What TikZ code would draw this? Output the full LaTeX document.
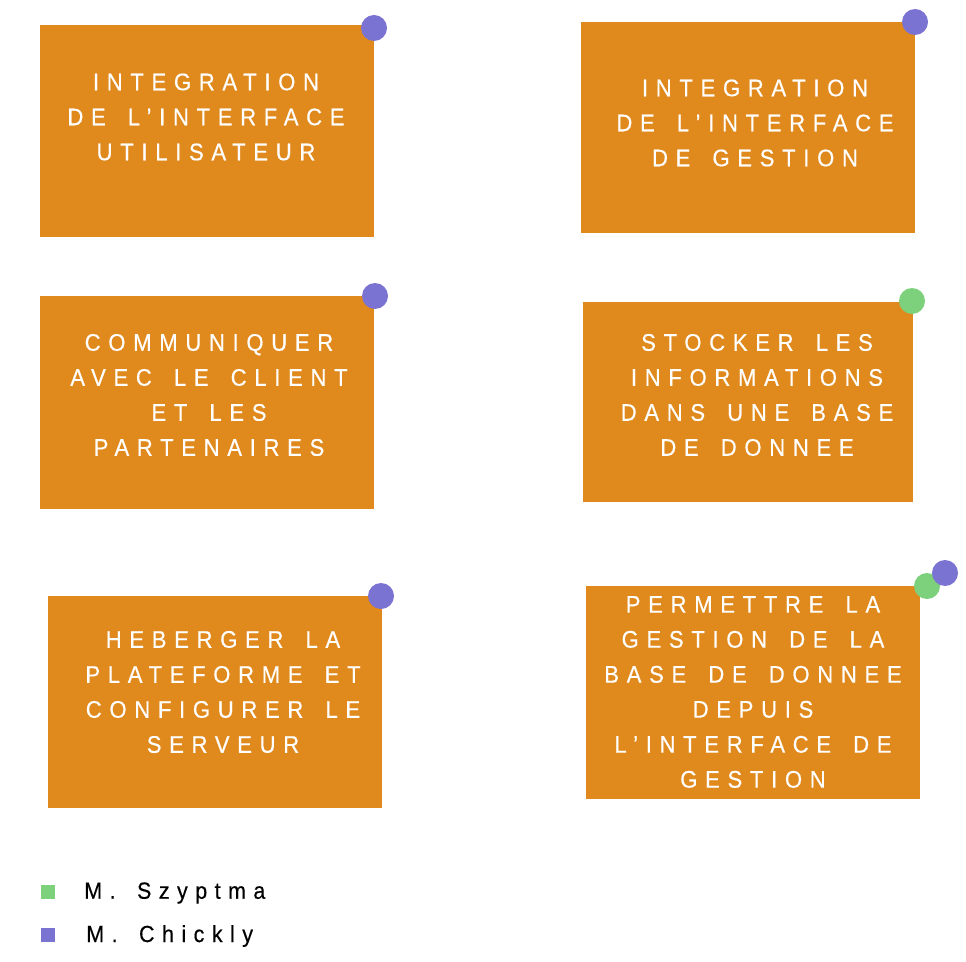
\documentclass[tikz,border=0pt]{standalone}
\usepackage{fontspec}
\setmainfont{Liberation Sans}
\newfontfamily\spaced[LetterSpace=32,FakeStretch=0.92,WordSpace=1.6,FakeBold=0.4]{Liberation Sans}
\definecolor{boxorange}{HTML}{E08A1E}
\definecolor{dotpurple}{HTML}{7B73D1}
\definecolor{dotgreen}{HTML}{7DD17D}
\begin{document}
\begin{tikzpicture}[x=0.75pt,y=-0.75pt,
  box/.style={fill=boxorange,draw=none,inner sep=0pt},
  boxtext/.style={text=white,align=center,inner sep=0pt,font=\fontsize{18}{26.25}\selectfont\spaced},
  pdot/.style={circle,fill=dotpurple,draw=none,minimum size=19.5pt,inner sep=0pt},
  gdot/.style={circle,fill=dotgreen,draw=none,minimum size=19.5pt,inner sep=0pt},
  legsq/.style={draw=none,minimum size=10.5pt,inner sep=0pt},
  legtext/.style={anchor=west,inner sep=0pt,font=\fontsize{17.5}{21}\selectfont\spaced}]
\useasboundingbox[fill=white] (0,0) rectangle (966,962);
% boxes
\node[box,minimum width=250.5pt,minimum height=159pt] (b1) at (207,131) {};
\node[box,minimum width=250.5pt,minimum height=158.25pt] (b2) at (748,127.5) {};
\node[box,minimum width=250.5pt,minimum height=159.75pt] (b3) at (207,402.5) {};
\node[box,minimum width=247.5pt,minimum height=150pt] (b4) at (748,402) {};
\node[box,minimum width=250.5pt,minimum height=159pt] (b5) at (215,702) {};
\node[box,minimum width=250.5pt,minimum height=159.75pt] (b6) at (753,692.5) {};
% texts
\node[boxtext] (t1) at (206,117) {INTEGRATION\\DE L’INTERFACE\\UTILISATEUR};
\node[boxtext] (t2) at (755,123) {INTEGRATION\\DE L’INTERFACE\\DE GESTION};
\node[boxtext] (t3) at (209,395) {COMMUNIQUER\\AVEC LE CLIENT\\ET LES\\PARTENAIRES};
\node[boxtext] (t4) at (757,395) {STOCKER LES\\INFORMATIONS\\DANS UNE BASE\\DE DONNEE};
\node[boxtext] (t5) at (223,692) {HEBERGER LA\\PLATEFORME ET\\CONFIGURER LE\\SERVEUR};
\node[boxtext] (t6) at (753,692) {PERMETTRE LA\\GESTION DE LA\\BASE DE DONNEE\\DEPUIS\\L’INTERFACE DE\\GESTION};
% dots
\node[pdot] (d1) at (374,28) {};
\node[pdot] (d2) at (915,22) {};
\node[pdot] (d3) at (375,296) {};
\node[gdot] (d4) at (912,301) {};
\node[pdot] (d5) at (381,596) {};
\node[gdot] (d6g) at (927,586) {};
\node[pdot] (d6p) at (945,573) {};
% legend
\node[legsq,fill=dotgreen] (lg) at (48,892) {};
\node[legsq,fill=dotpurple] (lp) at (48,935) {};
\node[legtext] (lgt) at (84,893) {M. Szyptma};
\node[legtext] (lpt) at (86,936) {M. Chickly};
\end{tikzpicture}
\end{document}
